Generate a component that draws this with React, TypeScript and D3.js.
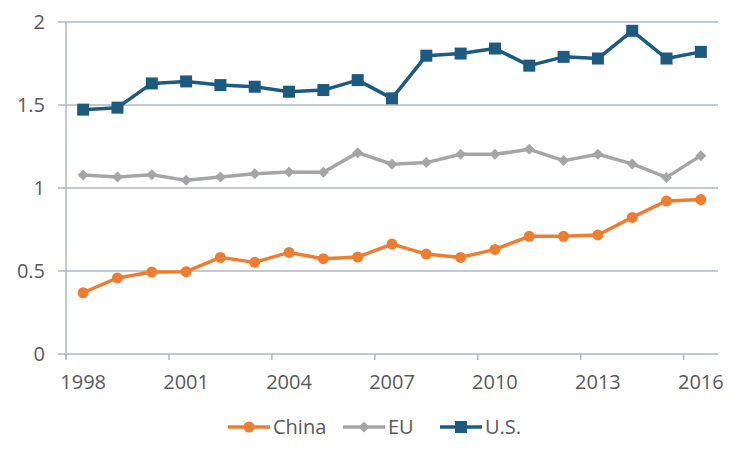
import React from "react";
import * as d3 from "d3";

const years = [1998, 1999, 2000, 2001, 2002, 2003, 2004, 2005, 2006, 2007, 2008, 2009, 2010, 2011, 2012, 2013, 2014, 2015, 2016];
const china = [0.369, 0.458, 0.494, 0.496, 0.582, 0.552, 0.612, 0.574, 0.584, 0.662, 0.602, 0.582, 0.63, 0.709, 0.709, 0.717, 0.823, 0.922, 0.93];
const eu = [1.078, 1.066, 1.08, 1.046, 1.066, 1.086, 1.096, 1.095, 1.213, 1.143, 1.153, 1.203, 1.203, 1.233, 1.165, 1.203, 1.145, 1.064, 1.195];
const us = [1.472, 1.484, 1.63, 1.642, 1.62, 1.61, 1.58, 1.59, 1.65, 1.54, 1.797, 1.81, 1.84, 1.737, 1.79, 1.78, 1.947, 1.78, 1.82];
const yTicks = [0, 0.5, 1, 1.5, 2];
const yTickLabels = ["0", "0.5", "1", "1.5", "2"];
const xLabelEvery = 3;

const seriesNames = ["China", "EU", "U.S."];
const colors = { China: "#ed7d31", EU: "#a5a5a5", "U.S.": "#1c5a80" };
const gridColor = "#aab8c8";
const textColor = "#595959";
const font = "'Open Sans', sans-serif";

function Marker({ type, x, y, color }: { type: string; x: number; y: number; color: string }) {
  if (type === "circle") return <circle cx={x} cy={y} r={5.5} fill={color} />;
  if (type === "square") return <rect x={x - 6} y={y - 6} width={12} height={12} fill={color} />;
  const s = 5.5;
  return <path d={`M${x},${y - s}L${x + s},${y}L${x},${y + s}L${x - s},${y}Z`} fill={color} />;
}

export default function App() {
  const W = 750, H = 459;
  const x = d3.scaleBand<number>().domain(years).range([66, 718]).padding(0);
  const bw = x.bandwidth();
  const cx = (yr: number) => (x(yr) as number) + bw / 2;
  const y = d3.scaleLinear().domain([0, 2]).range([354, 22]);

  const series = [
    { name: "China", values: china, marker: "circle" },
    { name: "EU", values: eu, marker: "diamond" },
    { name: "U.S.", values: us, marker: "square" },
  ];

  const line = d3.line<number>().x((_, i) => cx(years[i])).y((v) => y(v));

  const tickIdx = years.map((_, i) => i).filter((i) => i % xLabelEvery === 0);

  const legendItems = [
    { name: "China", lx: 228, marker: "circle" },
    { name: "EU", lx: 343, marker: "diamond" },
    { name: "U.S.", lx: 440, marker: "square" },
  ];

  return (
    <svg width={W} height={H} style={{ display: "block", position: "absolute", left: 0, top: 0 }} fontFamily={font}>
      <rect x={0} y={0} width={W} height={H} fill="#fff" />
      {yTicks.map((t, i) => (
        <g key={t}>
          <line x1={58} x2={718} y1={y(t)} y2={y(t)} stroke={gridColor} strokeWidth={1.5} />
          <text x={45} y={y(t)} dy="0.35em" textAnchor="end" fontSize={20} fill={textColor}>
            {yTickLabels[i]}
          </text>
        </g>
      ))}
      <line x1={66} x2={66} y1={22} y2={359} stroke={gridColor} strokeWidth={1.5} />
      {tickIdx.map((i) => (
        <g key={i}>
          <line x1={(x(years[i]) as number)} x2={(x(years[i]) as number)} y1={354} y2={360} stroke={gridColor} strokeWidth={1.5} />
          <text x={cx(years[i])} y={382} dy="0.35em" textAnchor="middle" fontSize={20} fill={textColor}>
            {years[i]}
          </text>
        </g>
      ))}
      {series.map((s) => {
        const c = (colors as any)[s.name];
        return (
          <g key={s.name}>
            <path d={line(s.values) || ""} fill="none" stroke={c} strokeWidth={3.5} strokeLinejoin="round" />
            {s.values.map((v, i) => (
              <Marker key={i} type={s.marker} x={cx(years[i])} y={y(v)} color={c} />
            ))}
          </g>
        );
      })}
      {legendItems.map((it) => {
        const c = (colors as any)[it.name];
        return (
          <g key={it.name}>
            <line x1={it.lx} x2={it.lx + 42} y1={427} y2={427} stroke={c} strokeWidth={3.5} />
            <Marker type={it.marker} x={it.lx + 21} y={427} color={c} />
            <text x={it.lx + 45} y={427} dy="0.35em" fontSize={20} fill={textColor}>
              {it.name}
            </text>
          </g>
        );
      })}
    </svg>
  );
}
